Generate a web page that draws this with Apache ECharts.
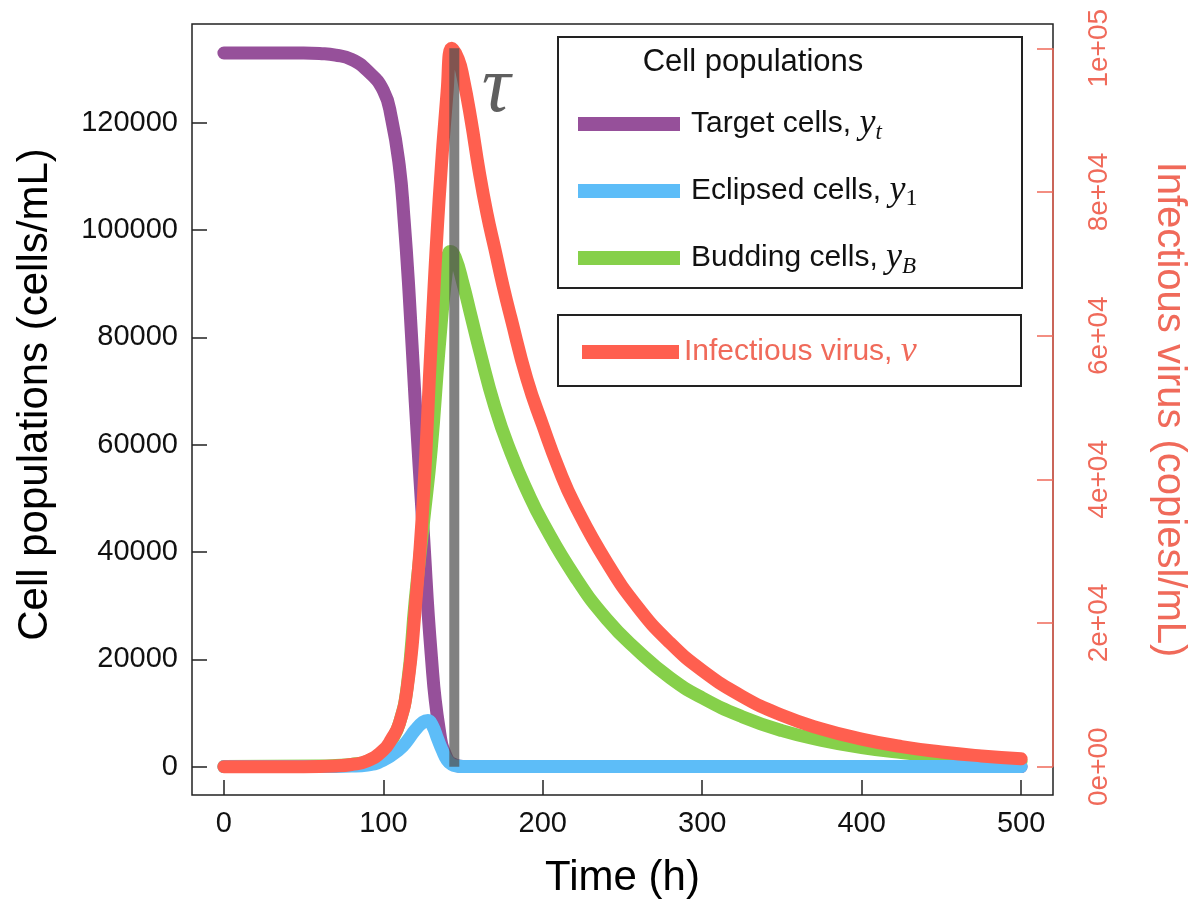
<!DOCTYPE html>
<html lang="en">
<head>
<meta charset="UTF-8">
<title>Cell populations</title>
<script src="https://cdn.jsdelivr.net/npm/echarts@6.0.0/dist/echarts.min.js"></script>
<style>
  html, body { margin: 0; padding: 0; background: #fff; }
  #main { width: 1190px; height: 903px; }
</style>
</head>
<body>
<div id="main"></div>
<script>
// values, time in hours
const targetT = [0, 50, 60, 70, 80, 90, 100, 105, 110, 113, 116, 120, 125, 130, 135, 140, 145, 150, 200, 300, 400, 500];
const targetY = [133000, 133000, 132900, 132600, 131800, 129700, 126000, 121000, 112000, 102000, 89000, 68000, 44000, 21000, 7000, 1500, 300, 0, 0, 0, 0, 0];

const eclipsedT = [0, 60, 80, 90, 100, 110, 115, 120, 125, 128, 131, 134, 137, 140, 143, 146, 150, 200, 300, 400, 500];
const eclipsedY = [0, 0, 100, 300, 1200, 3200, 4800, 6800, 8300, 8600, 7500, 5200, 3000, 1200, 400, 100, 0, 0, 0, 0, 0];

const buddingT = [0, 60, 70, 80, 90, 100, 105, 110, 115, 120, 125, 130, 135, 140, 142, 145, 150, 155, 160, 170, 180, 190, 200, 220, 240, 260, 280, 300, 325, 350, 375, 400, 425, 450, 475, 500];
const buddingY = [0, 100, 200, 400, 1000, 2800, 4800, 8000, 15000, 31000, 45000, 59000, 78000, 93500, 96000, 95000, 90000, 84000, 78000, 67000, 58500, 51500, 45500, 35500, 27500, 21500, 16500, 12800, 9300, 6700, 4900, 3550, 2600, 1900, 1350, 1000];

// virus on the right axis (copies/mL)
const virusT = [0, 50, 70, 80, 90, 100, 105, 110, 115, 120, 125, 130, 135, 140, 143, 147, 150, 155, 160, 165, 170, 175, 180, 190, 200, 210, 220, 240, 260, 280, 300, 325, 350, 375, 400, 425, 450, 475, 500];
const virusY = [0, 0, 100, 300, 800, 2300, 3800, 6000, 11000, 22000, 37000, 59000, 79000, 94000, 100000, 98500, 96000, 90000, 83000, 77000, 72000, 67000, 62500, 54000, 47500, 41500, 36500, 28500, 22100, 17200, 13400, 9800, 7150, 5250, 3850, 2800, 2050, 1500, 1100];

const tauTime = 144.5;
const tauTop = 100000;

const xTicks = [0, 100, 200, 300, 400, 500];
const leftTicks = [0, 20000, 40000, 60000, 80000, 100000, 120000];
const rightTicks = [0, 20000, 40000, 60000, 80000, 100000];
const rightTickLabels = ['0e+00', '2e+04', '4e+04', '6e+04', '8e+04', '1e+05'];

const xMin = -20, xMax = 520;

const sans = '"Liberation Sans", Arial, sans-serif';
const serif = '"Liberation Serif", "DejaVu Serif", serif';
const salmon = '#F06A5A';

function zip(ts, vs) {
    return ts.map((t, i) => [t, vs[i]]);
}

function curve(name, color, t, y, axis) {
    return {
        name: name,
        type: 'line',
        yAxisIndex: axis,
        data: zip(t, y),
        symbol: 'none',
        smooth: 0.5,
        color: color,
        lineStyle: { width: 13, cap: 'round', join: 'round', color: color },
        emphasis: { disabled: true }
    };
}

const legendText = {
    'Target cells': '{n|Target cells, }{m|y}{s|t}',
    'Eclipsed cells': '{n|Eclipsed cells, }{m|y}{u|1}',
    'Budding cells': '{n|Budding cells, }{m|y}{s|B}',
    'Infectious virus': '{n|Infectious virus, }{m|v}'
};

function richFor(color) {
    return {
        n: { fontFamily: sans, fontSize: 30, color: color, lineHeight: 40 },
        m: { fontFamily: serif, fontStyle: 'italic', fontSize: 36, color: color, lineHeight: 40 },
        s: { fontFamily: serif, fontStyle: 'italic', fontSize: 23, color: color, lineHeight: 24, verticalAlign: 'bottom' },
        u: { fontFamily: serif, fontSize: 24, color: color, lineHeight: 24, verticalAlign: 'bottom' }
    };
}

let myChart = echarts.init(document.getElementById('main'));

let option = {
    animation: false,
    backgroundColor: '#fff',
    grid: {
        left: 192, right: 137, top: 24, bottom: 108,
        containLabel: false, outerBoundsMode: 'none',
        show: true, borderColor: '#222', borderWidth: 1.5
    },
    xAxis: {
        type: 'value', min: xMin, max: xMax,
        axisLine: { show: false, onZero: false },
        splitLine: { show: false },
        axisTick: { inside: true, length: 15, customValues: xTicks, lineStyle: { color: '#222', width: 1.5 } },
        axisLabel: { customValues: xTicks, fontFamily: sans, fontSize: 29, color: '#111', margin: 14 },
        name: 'Time (h)', nameLocation: 'middle', nameGap: 62,
        nameTextStyle: { fontFamily: sans, fontSize: 42, color: '#000' }
    },
    yAxis: [
        {
            type: 'value', min: -5300, max: 138400, position: 'left',
            axisLine: { show: false, onZero: false },
            splitLine: { show: false },
            axisTick: { inside: true, length: 15, customValues: leftTicks, lineStyle: { color: '#222', width: 1.5 } },
            axisLabel: { customValues: leftTicks, fontFamily: sans, fontSize: 29, color: '#111', margin: 14,
                formatter: v => String(v) },
            name: 'Cell populations (cells/mL)', nameLocation: 'middle', nameGap: 136,
            nameTextStyle: { fontFamily: sans, fontSize: 42, color: '#000', padding: [0, 0, 0, 30] }
        },
        {
            type: 'value', min: -3940, max: 103380, position: 'right',
            axisLine: { show: false, onZero: false },
            splitLine: { show: false },
            axisTick: { inside: true, length: 16, customValues: rightTicks, lineStyle: { color: salmon, width: 1.5 } },
            axisLabel: { customValues: rightTicks, rotate: 90, fontFamily: sans, fontSize: 28, color: salmon, margin: 32,
                formatter: v => rightTickLabels[rightTicks.indexOf(v)] },
            name: 'Infectious virus (copiesl/mL)', nameLocation: 'middle', nameRotate: -90, nameGap: 96,
            nameTextStyle: { fontFamily: sans, fontSize: 40, color: salmon }
        }
    ],
    legend: [
        {
            data: ['Target cells', 'Eclipsed cells', 'Budding cells'],
            orient: 'vertical', left: 578, top: 106, padding: 0,
            icon: 'rect', itemWidth: 102, itemHeight: 14, itemGap: 29,
            selectedMode: false,
            formatter: name => legendText[name],
            textStyle: { fontFamily: sans, fontSize: 30, color: '#111', padding: [0, 0, 0, 6], rich: richFor('#111') }
        },
        {
            data: ['Infectious virus'],
            orient: 'vertical', left: 582, top: 334, padding: 0,
            icon: 'rect', itemWidth: 97, itemHeight: 14,
            selectedMode: false,
            formatter: name => legendText[name],
            textStyle: { fontFamily: sans, fontSize: 30, color: salmon, rich: richFor(salmon) }
        }
    ],
    graphic: [
        { type: 'rect', shape: { x: 558, y: 37, width: 464, height: 251 },
          style: { fill: 'none', stroke: '#222', lineWidth: 2 }, z: 10 },
        { type: 'rect', shape: { x: 558, y: 315, width: 463, height: 71 },
          style: { fill: 'none', stroke: '#222', lineWidth: 2 }, z: 10 },
        { type: 'text', x: 753, y: 62, z: 10,
          style: { text: 'Cell populations', fontFamily: sans, fontSize: 31, fill: '#111',
                   textAlign: 'center', textVerticalAlign: 'middle' } },
        { type: 'text', x: 496, y: 90, z: 10,
          style: { text: 'τ', fontFamily: serif, fontStyle: 'italic', fontSize: 80, fill: '#5f5f5f',
                   textAlign: 'center', textVerticalAlign: 'middle' } }
    ],
    series: [
        curve('Target cells', '#96509A', targetT, targetY, 0),
        curve('Budding cells', '#86D04A', buddingT, buddingY, 0),
        curve('Eclipsed cells', '#5DBDF8', eclipsedT, eclipsedY, 0),
        curve('Infectious virus', '#FF5F4F', virusT, virusY, 1),
        {
            name: 'tau', type: 'line', yAxisIndex: 1, symbol: 'none',
            data: [[tauTime, 0], [tauTime, tauTop]],
            lineStyle: { width: 10, color: 'rgba(80,80,80,0.72)', cap: 'butt' },
            emphasis: { disabled: true }
        },
        {
            // virus axis line only spans 0 .. 1e+05
            name: 'virus axis', type: 'line', yAxisIndex: 1, symbol: 'none', clip: false,
            data: [[xMax, rightTicks[0]], [xMax, rightTicks[rightTicks.length - 1]]],
            lineStyle: { width: 1.5, color: salmon },
            emphasis: { disabled: true }
        }
    ]
};

myChart.setOption(option);
</script>
</body>
</html>
